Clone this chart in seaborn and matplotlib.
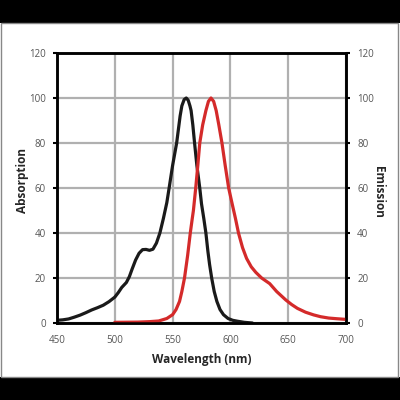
import matplotlib
matplotlib.use("Agg")
import matplotlib.pyplot as plt
import matplotlib.patches as patches
import seaborn as sns
import pandas as pd

# absorption spectrum (black)
abs_nm = [450, 455, 460, 465, 470, 475, 480, 485, 490, 495, 500, 503, 506, 510,
          512.6, 515, 518, 521, 524, 527, 530, 533, 536, 539, 542, 545, 547,
          550, 553.5, 556.5, 558, 560, 561.8, 563.5, 565, 566, 567.5, 569, 571,
          573.5, 575, 577, 578.8, 580.5, 582, 583.8, 586, 588.3, 591, 594, 598,
          602, 606, 612, 619]
abs_val = [1.2, 1.4, 1.8, 2.6, 3.5, 4.6, 5.8, 6.8, 7.9, 9.5, 11.5, 13.5, 15.8, 18,
           20.6, 24, 28, 31, 32.6, 32.7, 32.3, 32.8, 35.5, 40, 46.4, 53.5, 60,
           70, 80, 92, 96.5, 99.3, 100, 99, 96.5, 94.4, 88, 80, 70,
           60, 53, 46.4, 40, 32, 26, 20, 14, 9.6, 6, 3.7, 2,
           1.2, 0.8, 0.3, 0]

# emission spectrum (red)
em_nm = [500, 520, 530, 538, 545, 550, 553, 556, 558, 560.3, 563, 565.3, 567,
         568, 570, 571.8, 573.5, 576, 578.8, 581, 583.2, 585.5, 587.7, 590,
         592.7, 595.5, 598.5, 601.5, 604.4, 607, 610.5, 614, 618, 622, 627,
         634, 640, 648, 653, 658, 665, 672, 678, 685, 692, 700]
em_val = [0.3, 0.4, 0.6, 0.9, 2, 3.7, 6, 9.6, 14, 20, 30, 40, 46.4,
          50, 60, 70, 80, 88, 94.4, 98.5, 100, 98.5, 94.4, 88,
          80, 70, 60, 53, 46.4, 40, 33.5, 28.7, 25, 22.5, 20,
          17.5, 14, 10.2, 8.2, 6.5, 4.8, 3.6, 2.8, 2.2, 1.9, 1.6]

x_ticks = [450, 500, 550, 600, 650, 700]
y_ticks = [0, 20, 40, 60, 80, 100, 120]

sns.set_style("white")
plt.rcParams['font.family'] = ['Open Sans', 'DejaVu Sans']

fig = plt.figure(figsize=(4, 4), dpi=100, facecolor='white')
# black bands top and bottom, thin grey frame around the white panel
fig.patches.append(patches.Rectangle((0, 377 / 400), 1, 23 / 400, transform=fig.transFigure,
                                     facecolor='black', edgecolor='none', zorder=-5))
fig.patches.append(patches.Rectangle((0, 0), 1, 23 / 400, transform=fig.transFigure,
                                     facecolor='black', edgecolor='none', zorder=-5))
fig.patches.append(patches.Rectangle((0.002, 23 / 400), 0.993, 354 / 400,
                                     transform=fig.transFigure, facecolor='none',
                                     edgecolor='#888888', linewidth=1, zorder=-4))

ax = fig.add_axes([57 / 400, 77 / 400, 289 / 400, 270 / 400])
ax.set_facecolor('white')

df_abs = pd.DataFrame({'nm': abs_nm, 'val': abs_val})
df_em = pd.DataFrame({'nm': em_nm, 'val': em_val})
sns.lineplot(data=df_abs, x='nm', y='val', ax=ax, color='#1a1a1a', linewidth=2.3, zorder=3)
sns.lineplot(data=df_em, x='nm', y='val', ax=ax, color='#d42a2a', linewidth=2.3, zorder=3)

ax.set_xlim(450, 700)
ax.set_ylim(0, 120)
ax.set_xticks(x_ticks)
ax.set_yticks(y_ticks)
ax.grid(True, color='#b0b0b0', linewidth=1.6)
ax.set_axisbelow(True)
for s in ax.spines.values():
    s.set_color('black')
    s.set_linewidth(1.8)

ax.tick_params(axis='x', direction='inout', length=5, width=1.5, color='black',
               labelsize=7, labelcolor='#555555', pad=6)
ax.tick_params(axis='y', direction='out', length=3, width=1.5, color='black',
               labelsize=7, labelcolor='#555555', pad=5)
ax.set_xlabel('Wavelength (nm)', fontsize=8.5, fontweight='bold', labelpad=5)
ax.set_ylabel('Absorption', fontsize=8.5, fontweight='bold', va='center')
ax.yaxis.set_label_coords(-0.121, 0.526)

ax2 = ax.twinx()
ax2.set_ylim(0, 120)
ax2.set_yticks(y_ticks)
ax2.tick_params(axis='y', direction='out', length=3, width=1.5, color='black',
                labelsize=7, labelcolor='#555555', pad=5)
for s in ax2.spines.values():
    s.set_color('black')
    s.set_linewidth(1.8)
ax2.set_ylabel('Emission', fontsize=8.5, fontweight='bold', rotation=270, va='center')
ax2.yaxis.set_label_coords(1.114, 0.485)

fig.savefig('out.png', dpi=100)
